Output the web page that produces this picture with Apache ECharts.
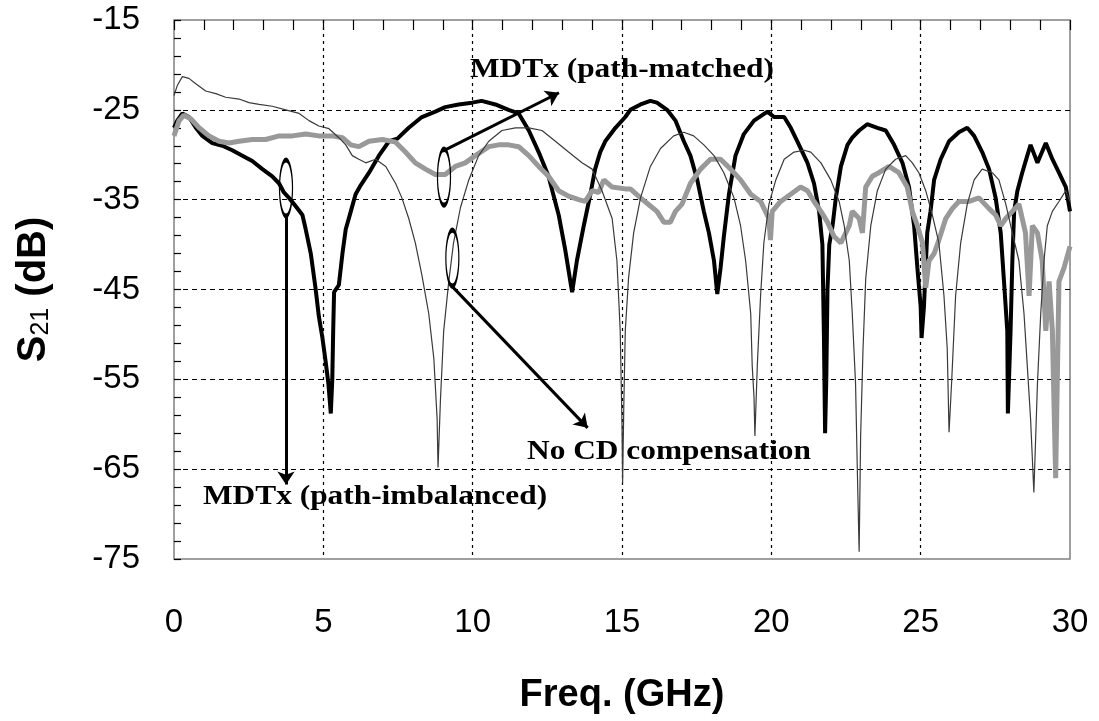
<!DOCTYPE html>
<html>
<head>
<meta charset="utf-8">
<script src="https://cdn.jsdelivr.net/npm/echarts@6/dist/echarts.min.js"></script>
<style>
  html, body { margin: 0; padding: 0; background: #fff; }
  #chart { width: 1099px; height: 721px; }
</style>
</head>
<body>
<div id="chart"></div>
<script>
// MDTx (path-imbalanced) - thick black
const freqImb = [0, 0.11, 0.28, 0.5, 0.73, 0.95, 1.28, 1.62, 1.95, 2.29, 2.62, 2.96, 3.29, 3.52, 3.68, 3.85, 4.07, 4.3, 4.41, 4.58, 4.74, 4.85, 4.97, 5.08, 5.17, 5.25, 5.3, 5.33, 5.36, 5.52, 5.64, 5.75, 5.92, 6.08, 6.25, 6.53, 6.86, 7.2, 7.48, 7.86, 8.3, 8.75, 9.08, 9.53, 9.98, 10.3, 10.76, 11.2, 11.54, 11.88, 12.21, 12.54, 12.88, 13.1, 13.27, 13.33, 13.49, 13.72, 13.94, 14.1, 14.27, 14.44, 14.78, 15.11, 15.28, 15.62, 15.95, 16.17, 16.51, 16.79, 17.07, 17.29, 17.52, 17.74, 17.91, 18.08, 18.19, 18.3, 18.41, 18.58, 18.8, 19.08, 19.42, 19.87, 20.09, 20.43, 20.65, 20.87, 21.21, 21.43, 21.6, 21.71, 21.76, 21.8, 21.84, 21.88, 21.94, 22.05, 22.16, 22.33, 22.55, 22.71, 22.94, 23.21, 23.55, 23.83, 24.11, 24.39, 24.61, 24.78, 24.89, 25, 25.03, 25.11, 25.22, 25.33, 25.45, 25.67, 25.95, 26.28, 26.56, 26.79, 27.06, 27.29, 27.51, 27.68, 27.79, 27.9, 27.92, 28.01, 28.07, 28.13, 28.24, 28.4, 28.57, 28.68, 28.91, 29.19, 29.41, 29.63, 29.86, 30];
const s21Imb = [-27, -26.2, -25.4, -25.8, -27, -27.9, -28.7, -29, -29.5, -30.1, -30.7, -31.6, -32.4, -33.2, -34.2, -34.8, -35.7, -36.7, -38.3, -41, -44.9, -48, -50.4, -53.1, -55.5, -58.8, -55, -49.6, -45.3, -44.5, -41, -38.3, -36.3, -34.4, -33.4, -32, -30.1, -28.5, -28.2, -27, -25.8, -25.2, -24.7, -24.4, -24.2, -24, -24.4, -25, -25.4, -27.3, -29.7, -32.4, -36.7, -40.6, -44.1, -45.3, -41.8, -37.9, -34.4, -31.6, -29.7, -28.5, -27, -25.8, -25, -24.4, -24, -24.2, -25, -26.2, -28.5, -30.1, -32.8, -36.3, -38.7, -41.8, -45.5, -42.6, -39.1, -34.4, -30.1, -27.7, -26.2, -25.2, -25.8, -25.8, -27, -28.5, -30.9, -33.2, -36.3, -40, -50, -61, -55, -45, -40, -37.9, -34.8, -31.3, -28.9, -28.1, -27.3, -26.6, -27, -27.3, -28.9, -30.9, -33.6, -37.9, -42.6, -46.9, -50.4, -46.9, -38.7, -36.3, -32.8, -30.5, -28.5, -27.5, -27, -27.9, -29.7, -31.6, -34.8, -38.7, -44.1, -49.6, -58.8, -49.6, -41.8, -36.3, -34, -32, -30.1, -28.9, -30.9, -28.7, -30.5, -32, -33.6, -36.3];

// No CD compensation - thin line
const freqNoCd = [0, 0.11, 0.28, 0.5, 0.73, 1.06, 1.4, 1.73, 2.18, 2.51, 2.85, 3.29, 3.74, 4.19, 4.52, 4.85, 5.19, 5.52, 5.75, 5.97, 6.19, 6.42, 6.75, 7.09, 7.42, 7.63, 7.86, 8.08, 8.3, 8.53, 8.7, 8.81, 8.84, 8.92, 9.03, 9.2, 9.36, 9.59, 9.87, 10.2, 10.54, 10.98, 11.43, 11.88, 12.32, 12.77, 13.21, 13.66, 14, 14.33, 14.67, 14.83, 14.94, 15, 15.02, 15.06, 15.11, 15.22, 15.39, 15.62, 15.95, 16.29, 16.73, 17.07, 17.4, 17.74, 18.08, 18.41, 18.75, 18.97, 19.14, 19.31, 19.36, 19.42, 19.45, 19.53, 19.64, 19.75, 19.92, 20.15, 20.43, 20.76, 21.1, 21.32, 21.66, 21.99, 22.27, 22.44, 22.61, 22.71, 22.82, 22.88, 22.94, 22.99, 23.07, 23.16, 23.33, 23.55, 23.83, 24.16, 24.5, 24.72, 24.94, 25.17, 25.39, 25.61, 25.78, 25.89, 25.95, 26.04, 26.17, 26.34, 26.56, 26.79, 27.06, 27.4, 27.62, 27.85, 28.07, 28.29, 28.46, 28.57, 28.68, 28.79, 28.91, 29.02, 29.13, 29.24, 29.41, 29.63, 29.86, 30];
const s21NoCd = [-23.4, -22.3, -21.3, -21.5, -22.1, -22.9, -23.2, -23.6, -23.8, -24.2, -24.4, -24.6, -25, -25.4, -26.2, -26.8, -27.1, -28.1, -28.9, -30.1, -30.5, -30.9, -30.5, -31.3, -33.2, -34.8, -37.1, -39.8, -43.4, -47.7, -52.7, -59.4, -64.8, -57.4, -49.6, -44.1, -39.8, -35.9, -32.8, -30.1, -28.5, -27.3, -27, -27, -27.3, -28.5, -29.7, -30.9, -31.6, -34, -37.1, -41.8, -49.6, -60, -66.5, -58, -49.6, -43.7, -38.7, -34.8, -31.3, -29.3, -27.9, -27.5, -27.9, -28.9, -30.1, -32, -34.8, -37.9, -41.8, -47.7, -53.5, -57, -61.3, -53.5, -45.7, -39.8, -35.5, -32.8, -30.5, -29.7, -29.5, -29.7, -30.9, -32.8, -35.2, -37.9, -41.8, -47.7, -55.5, -65.2, -74.2, -61.3, -51.6, -43.8, -37.9, -34, -31.6, -30.5, -30.1, -30.9, -32, -34, -36.7, -39.8, -45.7, -51.6, -60.9, -55.1, -45.7, -39.8, -35.5, -32.8, -31.6, -32, -32.8, -35.5, -38.7, -41.8, -47.7, -53.5, -59.4, -67.6, -55.5, -47.7, -41.8, -37.9, -36.3, -35.2, -34, -35.2];

// MDTx (path-matched) - thick gray
const freqMatched = [0, 0.17, 0.33, 0.56, 0.84, 1.17, 1.51, 1.84, 2.18, 2.62, 3.07, 3.52, 3.96, 4.41, 4.85, 5.3, 5.64, 5.92, 6.19, 6.53, 6.98, 7.42, 7.75, 8.08, 8.42, 8.75, 9.08, 9.42, 9.75, 10.09, 10.54, 10.87, 11.2, 11.54, 11.88, 12.21, 12.54, 12.88, 13.21, 13.55, 13.77, 14, 14.22, 14.39, 14.67, 15.11, 15.28, 15.62, 15.95, 16.17, 16.4, 16.62, 16.79, 17.01, 17.29, 17.63, 17.96, 18.3, 18.64, 18.97, 19.31, 19.64, 19.92, 19.97, 20.03, 20.31, 20.65, 20.98, 21.21, 21.43, 21.66, 21.88, 22.1, 22.33, 22.61, 22.71, 22.94, 23.05, 23.16, 23.38, 23.6, 23.94, 24.27, 24.55, 24.72, 24.89, 25.06, 25.17, 25.28, 25.45, 25.61, 25.84, 26.06, 26.28, 26.62, 26.95, 27.29, 27.51, 27.68, 27.85, 28.07, 28.29, 28.51, 28.63, 28.74, 28.91, 29.07, 29.19, 29.3, 29.41, 29.52, 29.63, 29.8, 30];
const s21Matched = [-27.9, -26.2, -25.6, -26, -27, -27.9, -28.5, -28.7, -28.5, -28.3, -28.3, -27.9, -27.9, -27.7, -27.9, -27.9, -28.1, -28.9, -29.1, -28.5, -28.3, -28.6, -29.7, -30.9, -31.6, -32.2, -32.2, -31.3, -30.9, -30.1, -29.1, -28.9, -28.9, -29.1, -30.1, -31.3, -32.4, -34, -34.6, -35, -35.2, -34, -34.2, -32.8, -33.6, -33.8, -33.8, -34.8, -35.7, -36.3, -37.5, -37.5, -36.3, -35.5, -33.2, -31.6, -30.5, -30.5, -31.6, -32.8, -34.4, -35.2, -37.1, -39.5, -36.3, -35.2, -34.4, -33.6, -34, -35.2, -36.3, -37.5, -39.1, -39.8, -37.9, -36.3, -37.1, -38.7, -33.6, -32.4, -32, -31.3, -32, -33.6, -36.3, -37.9, -39.8, -44.8, -41.8, -41, -39.5, -37.1, -36, -35.2, -35.2, -34.8, -36, -36.7, -37.9, -37.1, -36.3, -35.5, -38.7, -45.7, -37.9, -38.7, -41.8, -49.6, -44.1, -49.6, -66, -44.1, -42.6, -40.2];

// annotation anchors in data units (GHz, dB)
const ellipseCenters = [[3.75, -33.7], [9.04, -32.5], [9.32, -41.5]];
const arrowStarts = [[3.75, -36.8], [9.0, -29.6], [9.24, -44.4]];
const arrowEnds = [[3.75, -66.7], [12.89, -23.1], [13.85, -60.4]];

function pairs (xs, ys) {
  return xs.map((x, i) => [x, ys[i]]);
}

const chart = echarts.init(document.getElementById('chart'));
const sans = 'Liberation Sans, Arial, sans-serif';
const serifFont = 'bold 28px "Liberation Serif", "Times New Roman", serif';

const option = {
  animation: false,
  backgroundColor: '#fff',
  grid: {
    left: 174,
    right: 29,
    top: 20,
    bottom: 162,
    show: true,
    borderColor: '#808080',
    borderWidth: 1.5
  },
  xAxis: [{
    type: 'value',
    min: 0,
    max: 30,
    interval: 5,
    position: 'bottom',
    axisLine: { show: false },
    axisTick: { show: false },
    axisLabel: { fontSize: 33, color: '#000', margin: 47, fontFamily: sans },
    splitLine: {
      show: true,
      showMinLine: false,
      showMaxLine: false,
      lineStyle: { type: [3, 4], color: '#000', width: 1.2 }
    },
    name: 'Freq. (GHz)',
    nameLocation: 'middle',
    nameGap: 118,
    nameTextStyle: { fontSize: 38, fontWeight: 'bold', color: '#000', fontFamily: sans }
  }, {
    type: 'value',
    min: 0,
    max: 30,
    interval: 5,
    position: 'top',
    axisLine: { show: false },
    axisTick: { show: true, inside: true, length: 10, lineStyle: { color: '#000', width: 1.2 } },
    minorTick: { show: true, splitNumber: 5, length: 10, lineStyle: { color: '#000', width: 1.2 } },
    axisLabel: { show: false },
    splitLine: { show: false }
  }],
  yAxis: {
    type: 'value',
    min: -75,
    max: -15,
    interval: 10,
    axisLine: { show: false },
    axisTick: { show: true, inside: true, length: 7, lineStyle: { color: '#000', width: 1.2 } },
    minorTick: { show: true, splitNumber: 5, length: 7, lineStyle: { color: '#000', width: 1.2 } },
    axisLabel: { fontSize: 33, color: '#000', margin: 34, fontFamily: sans },
    splitLine: {
      show: true,
      showMinLine: false,
      showMaxLine: false,
      lineStyle: { type: [5, 4], color: '#000', width: 1.2 }
    },
    name: '{b|S}{s|21}{b| (dB)}',
    nameLocation: 'middle',
    nameGap: 120,
    nameTextStyle: {
      rich: {
        b: { fontSize: 40, fontWeight: 'bold', color: '#000', fontFamily: sans },
        s: { fontSize: 25, color: '#000', fontFamily: sans, verticalAlign: 'bottom' }
      }
    }
  },
  series: [{
    name: 'MDTx (path-imbalanced)',
    type: 'line',
    data: pairs(freqImb, s21Imb),
    showSymbol: false,
    silent: true,
    lineStyle: { color: '#000', width: 4 },
    markPoint: {
      silent: true,
      symbol: 'circle',
      symbolSize: [13, 56],
      itemStyle: { color: 'rgba(0,0,0,0)', borderColor: '#000', borderWidth: 2.5 },
      label: { show: false },
      data: ellipseCenters.map(c => ({ coord: c }))
    },
    markLine: {
      silent: true,
      symbol: ['none', 'arrow'],
      symbolSize: 13,
      label: { show: false },
      lineStyle: { color: '#000', width: 3, type: 'solid' },
      data: arrowStarts.map((s, i) => [{ coord: s }, { coord: arrowEnds[i] }])
    }
  }, {
    name: 'MDTx (path-matched)',
    type: 'line',
    data: pairs(freqMatched, s21Matched),
    showSymbol: false,
    silent: true,
    lineStyle: { color: '#999', width: 5 }
  }, {
    name: 'No CD compensation',
    type: 'line',
    data: pairs(freqNoCd, s21NoCd),
    showSymbol: false,
    silent: true,
    lineStyle: { color: '#3a3a3a', width: 1.2 }
  }],
  graphic: [{
    type: 'text', x: 470, y: 70, scaleX: 1.12,
    style: { text: 'MDTx (path-matched)', font: serifFont, fill: '#000', textVerticalAlign: 'middle', verticalAlign: 'middle' }
  }, {
    type: 'text', x: 527, y: 452, scaleX: 1.12,
    style: { text: 'No CD compensation', font: serifFont, fill: '#000', textVerticalAlign: 'middle', verticalAlign: 'middle' }
  }, {
    type: 'text', x: 203, y: 497, scaleX: 1.12,
    style: { text: 'MDTx (path-imbalanced)', font: serifFont, fill: '#000', textVerticalAlign: 'middle', verticalAlign: 'middle' }
  }]
};

chart.setOption(option);
</script>
</body>
</html>
